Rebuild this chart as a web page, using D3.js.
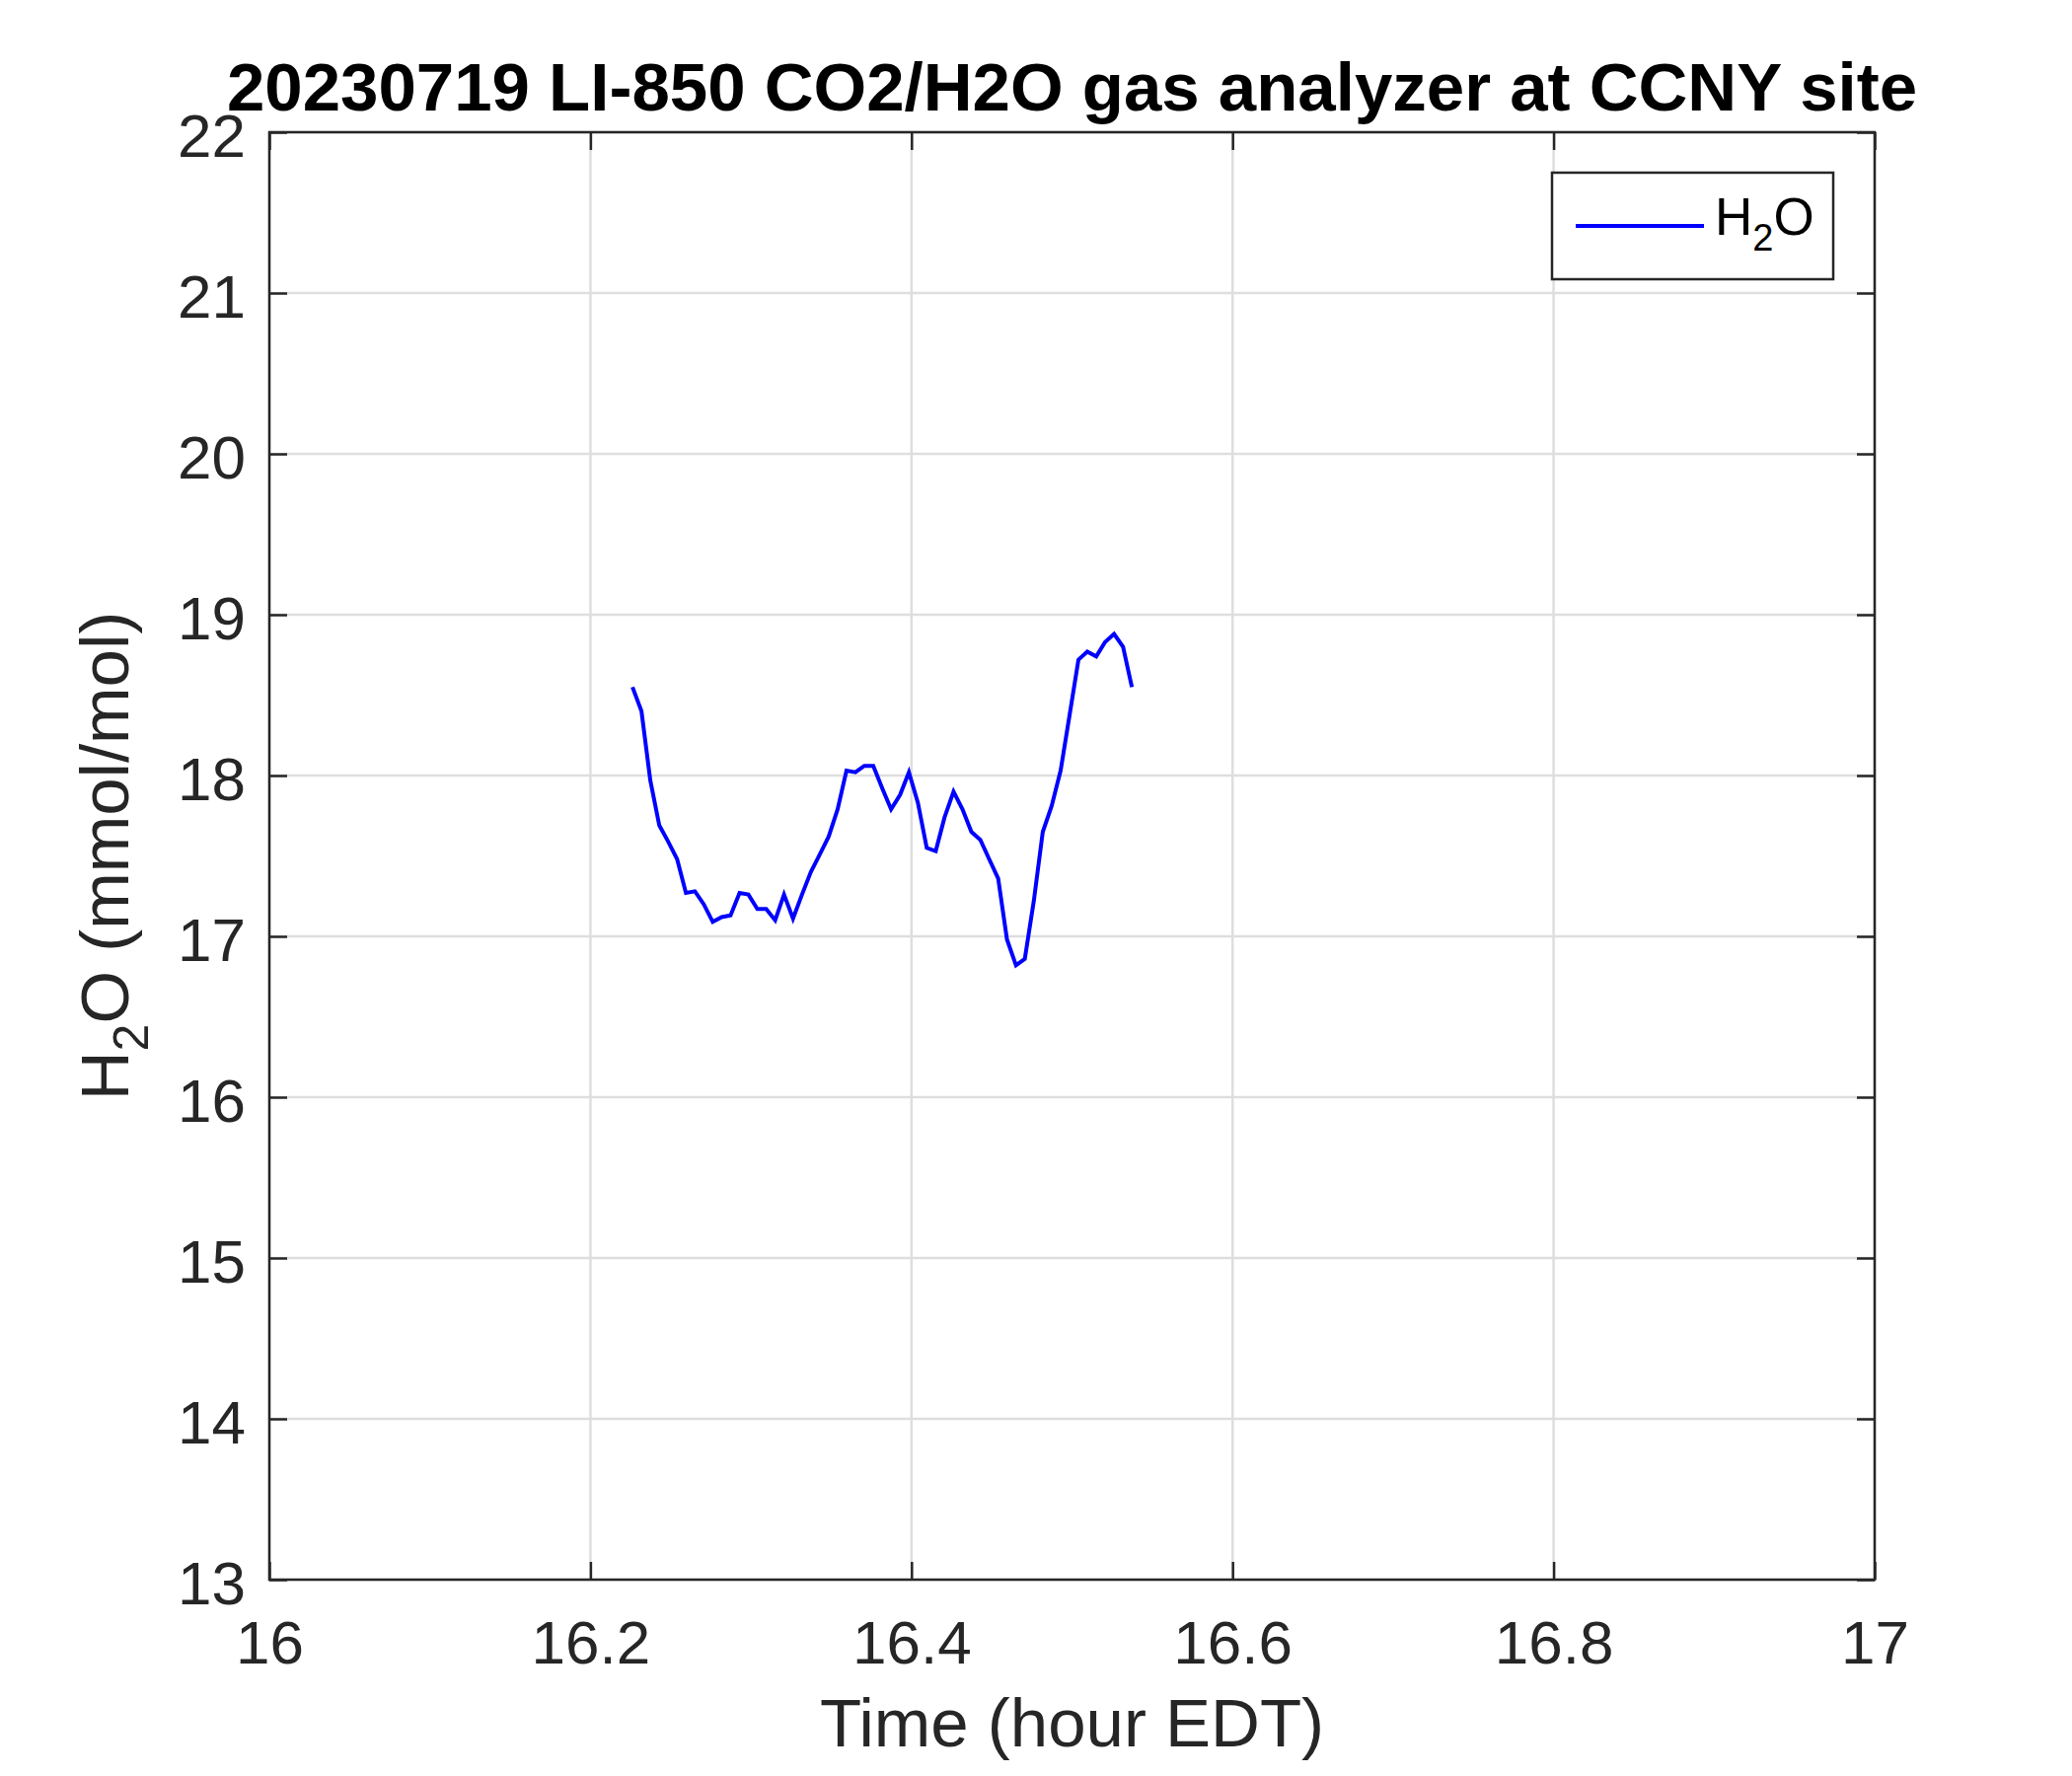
<!doctype html>
<html>
<head>
  <meta charset="UTF-8">
  <title>20230719 LI-850 CO2/H2O gas analyzer at CCNY site</title>
  <script src="https://d3js.org/d3.v7.min.js"></script>
  <style>
    body { margin: 0; background: #fff; }
    text { font-family: Arial, "Liberation Sans", sans-serif; }
  </style>
</head>
<body>
<div id="chart"></div>
<script>
// time in hours EDT, one sample every 20 s
var timeHours = [16.2262, 16.2318, 16.2373, 16.2429, 16.2484, 16.2540, 16.2595, 16.2651, 16.2706, 16.2762,
  16.2818, 16.2873, 16.2929, 16.2984, 16.3040, 16.3095, 16.3151, 16.3206, 16.3262, 16.3318,
  16.3373, 16.3429, 16.3484, 16.3540, 16.3595, 16.3651, 16.3706, 16.3762, 16.3818, 16.3873,
  16.3929, 16.3984, 16.4040, 16.4095, 16.4151, 16.4206, 16.4262, 16.4318, 16.4373, 16.4429,
  16.4484, 16.4540, 16.4595, 16.4651, 16.4706, 16.4762, 16.4818, 16.4873, 16.4929, 16.4984,
  16.5040, 16.5095, 16.5151, 16.5206, 16.5262, 16.5318, 16.5373];
// H2O mole fraction (mmol/mol)
var h2o = [18.55, 18.40, 17.97, 17.69, 17.59, 17.48, 17.27, 17.28, 17.20, 17.09,
  17.12, 17.13, 17.27, 17.26, 17.17, 17.17, 17.10, 17.26, 17.11, 17.26,
  17.40, 17.51, 17.62, 17.79, 18.03, 18.02, 18.06, 18.06, 17.92, 17.79,
  17.88, 18.02, 17.83, 17.55, 17.53, 17.74, 17.90, 17.79, 17.65, 17.60,
  17.48, 17.36, 16.98, 16.82, 16.86, 17.22, 17.65, 17.81, 18.03, 18.37,
  18.72, 18.77, 18.74, 18.83, 18.88, 18.80, 18.55];
var xTicks = [16, 16.2, 16.4, 16.6, 16.8, 17];
var yTicks = [13, 14, 15, 16, 17, 18, 19, 20, 21, 22];

var W = 2100, H = 1800;
var pLeft = 273, pRight = 1900, pTop = 134, pBottom = 1601;
var axisColor = "#262626";

var svg = d3.select("#chart").append("svg")
  .attr("width", W).attr("height", H);

var x = d3.scaleLinear().domain([16, 17]).range([pLeft, pRight]);
var y = d3.scaleLinear().domain([13, 22]).range([pBottom, pTop]);

// grid
svg.append("g").selectAll("line").data(xTicks).enter().append("line")
  .attr("x1", d => x(d)).attr("x2", d => x(d))
  .attr("y1", pTop).attr("y2", pBottom)
  .attr("stroke", "#dedede").attr("stroke-width", 2.5);
svg.append("g").selectAll("line").data(yTicks).enter().append("line")
  .attr("x1", pLeft).attr("x2", pRight)
  .attr("y1", d => y(d)).attr("y2", d => y(d))
  .attr("stroke", "#dedede").attr("stroke-width", 2.5);

// axes (ticks pointing inward on all four sides)
var tl = 18;
function styleAxis(g) {
  g.select(".domain").remove();
  g.selectAll(".tick line").attr("stroke", axisColor).attr("stroke-width", 2.5);
  g.selectAll(".tick text").attr("fill", axisColor).attr("font-size", 62)
    .style("font-family", "Arial, 'Liberation Sans', sans-serif");
}
svg.append("g").attr("transform", "translate(0," + pBottom + ")")
  .call(d3.axisBottom(x).tickValues(xTicks).tickSize(-tl).tickPadding(41).tickFormat(d3.format("")))
  .call(styleAxis);
svg.append("g").attr("transform", "translate(0," + pTop + ")")
  .call(d3.axisTop(x).tickValues(xTicks).tickSize(-tl).tickFormat(""))
  .call(styleAxis);
svg.append("g").attr("transform", "translate(" + pLeft + ",0)")
  .call(d3.axisLeft(y).tickValues(yTicks).tickSize(-tl).tickPadding(24).tickFormat(d3.format("")))
  .call(styleAxis)
  .selectAll(".tick text").attr("dy", "0.4em");
svg.append("g").attr("transform", "translate(" + pRight + ",0)")
  .call(d3.axisRight(y).tickValues(yTicks).tickSize(-tl).tickFormat(""))
  .call(styleAxis);

// box
svg.append("rect").attr("x", pLeft).attr("y", pTop)
  .attr("width", pRight - pLeft).attr("height", pBottom - pTop)
  .attr("fill", "none").attr("stroke", axisColor).attr("stroke-width", 2.5);

// data line
var pts = timeHours.map((t, i) => [t, h2o[i]]);
svg.append("path").datum(pts)
  .attr("d", d3.line().x(d => x(d[0])).y(d => y(d[1])))
  .attr("fill", "none").attr("stroke", "#0000ff").attr("stroke-width", 4);

// title
svg.append("text").attr("x", (pLeft + pRight) / 2).attr("y", 112)
  .attr("text-anchor", "middle").attr("font-size", 69).attr("font-weight", "bold")
  .attr("fill", "#000")
  .text("20230719 LI-850 CO2/H2O gas analyzer at CCNY site");

// x label
svg.append("text").attr("x", (pLeft + pRight) / 2).attr("y", 1770)
  .attr("text-anchor", "middle").attr("font-size", 69).attr("fill", axisColor)
  .text("Time (hour EDT)");

// y label
var yl = svg.append("text")
  .attr("transform", "translate(130," + ((pTop + pBottom) / 2) + ") rotate(-90)")
  .attr("text-anchor", "middle").attr("font-size", 69).attr("fill", axisColor);
yl.append("tspan").text("H");
yl.append("tspan").attr("font-size", 50).attr("dy", 20).text("2");
yl.append("tspan").attr("dy", -20).text("O (mmol/mol)");

// legend
var lg = svg.append("g");
lg.append("rect").attr("x", 1573).attr("y", 175).attr("width", 285).attr("height", 108)
  .attr("fill", "#fff").attr("stroke", axisColor).attr("stroke-width", 2.5);
lg.append("line").attr("x1", 1597).attr("x2", 1727).attr("y1", 229).attr("y2", 229)
  .attr("stroke", "#0000ff").attr("stroke-width", 4);
var lt = lg.append("text").attr("x", 1738).attr("y", 238).attr("font-size", 53).attr("fill", "#000");
lt.append("tspan").text("H");
lt.append("tspan").attr("font-size", 38).attr("dy", 16).text("2");
lt.append("tspan").attr("dy", -16).text("O");
</script>
</body>
</html>
